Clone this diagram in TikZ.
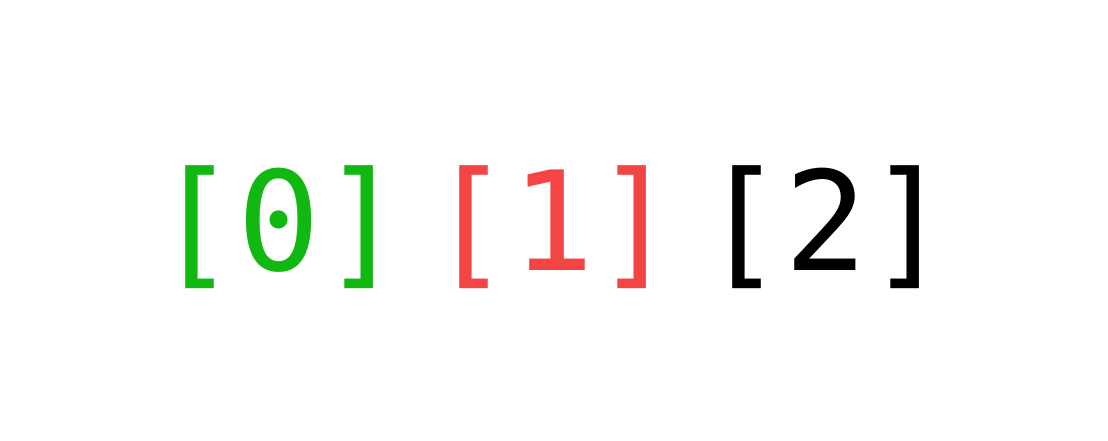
\documentclass[tikz,border=0pt]{standalone}
\usepackage{fontspec}
\setmonofont{DejaVu Sans Mono}
\definecolor{vert}{RGB}{18,184,18}
\definecolor{rouge}{RGB}{244,69,69}
\begin{document}
\begin{tikzpicture}[x=1pt,y=1pt]
\tikzstyle{idx}=[anchor=base,inner sep=0pt,font=\ttfamily\fontsize{138}{138}\selectfont] % les indices
\useasboundingbox (0,0) rectangle (1108,440);
\node[idx,text=vert] (i0) at (279.5,170) {[0]};
\node[idx,text=rouge] (i1) at (553,170) {[1]};
\node[idx,text=black] (i2) at (826,170) {[2]};
\end{tikzpicture}
\end{document}
